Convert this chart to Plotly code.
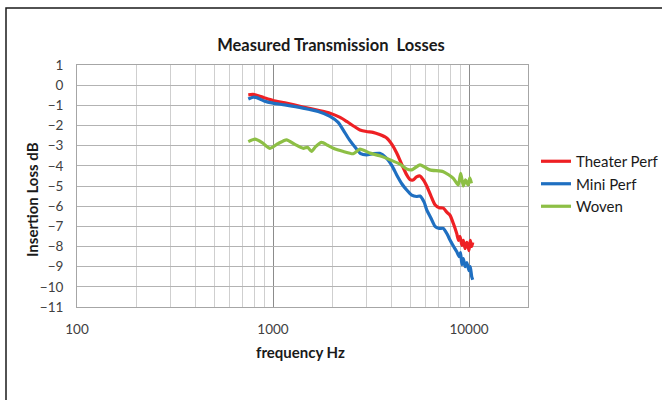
import plotly.graph_objects as go

# Insertion loss (dB) versus frequency (Hz) for three screen materials
theater_freq = [748, 790, 826, 900, 1000, 1150, 1422, 1700, 1954, 2200, 2376, 2600, 2778,
                3000, 3236, 3500, 3802, 4050, 4277, 4550, 4811, 5000, 5180, 5400, 5623,
                5850, 6085, 6400, 6709, 7050, 7396, 7700, 8000, 8350, 8653, 8850, 8995,
                9200, 9356, 9550, 9750, 10000, 10150, 10323, 10450]
theater_loss = [-0.48, -0.46, -0.5, -0.62, -0.76, -0.88, -1.08, -1.25, -1.39, -1.6, -1.8,
                -2.05, -2.22, -2.3, -2.34, -2.45, -2.62, -2.95, -3.36, -3.95, -4.45, -4.68,
                -4.7, -4.55, -4.5, -4.7, -5.0, -5.5, -5.93, -6.08, -6.1, -6.3, -6.45, -6.9,
                -7.35, -7.7, -7.5, -7.95, -7.7, -8.1, -7.8, -8.2, -7.7, -8.0, -7.8]

mini_freq = [748, 790, 826, 900, 1000, 1150, 1422, 1700, 1954, 2150, 2280, 2450, 2650,
             2800, 3000, 3236, 3500, 3802, 4050, 4277, 4550, 4811, 5100, 5400, 5623, 5900,
             6085, 6400, 6709, 7050, 7396, 7750, 8000, 8350, 8653, 8900, 9050, 9200, 9356,
             9550, 9750, 10000, 10150, 10323, 10450]
mini_loss = [-0.69, -0.6, -0.62, -0.78, -0.89, -0.98, -1.14, -1.31, -1.55, -1.85, -2.22,
             -2.7, -3.13, -3.4, -3.46, -3.4, -3.38, -3.63, -4.0, -4.45, -4.9, -5.2, -5.45,
             -5.52, -5.5, -5.8, -6.18, -6.6, -7.0, -7.1, -7.1, -7.4, -7.68, -8.0, -8.25,
             -8.5, -8.3, -8.9, -8.6, -9.0, -8.8, -9.2, -9.0, -9.5, -9.65]

woven_freq = [748, 810, 880, 966, 1060, 1172, 1300, 1428, 1500, 1573, 1650, 1770, 1900,
              2032, 2288, 2566, 2778, 3125, 3500, 3802, 4446, 4800, 5104, 5623, 6310,
              7396, 8318, 8810, 9070, 9356, 9600, 9891, 10100, 10290]
woven_loss = [-2.8, -2.68, -2.85, -3.13, -2.9, -2.71, -2.95, -3.13, -3.08, -3.29, -3.05,
              -2.84, -2.98, -3.13, -3.29, -3.4, -3.17, -3.37, -3.5, -3.63, -3.92, -4.15,
              -4.2, -3.95, -4.2, -4.29, -4.62, -4.95, -4.37, -5.0, -4.7, -4.95, -4.6, -4.87]

x_tick_vals = [100, 1000, 10000]
x_minor_vals = [200, 300, 400, 500, 600, 700, 800, 900,
                2000, 3000, 4000, 5000, 6000, 7000, 8000, 9000]
y_tick_vals = list(range(1, -12, -1))

FONT = "Lato"
TEXT = "#1a1a1a"
TICK = "#404040"

fig = go.Figure()
series = [
    ("Theater Perf", theater_freq, theater_loss, "#ee2024"),
    ("Mini Perf", mini_freq, mini_loss, "#1f6fc1"),
    ("Woven", woven_freq, woven_loss, "#8dbf45"),
]
for name, f, v, c in series:
    fig.add_trace(go.Scatter(
        x=f, y=v, name=name, mode="lines",
        line=dict(color=c, width=3.2, shape="spline", smoothing=0.6),
    ))

fig.update_layout(
    width=662, height=400,
    margin=dict(l=77, r=134, t=65, b=93, autoexpand=False),
    paper_bgcolor="white", plot_bgcolor="white",
    font=dict(family=FONT, size=13, color=TICK),
    title=dict(text="<b>Measured Transmission  Losses</b>",
               x=0.5, xref="container", xanchor="center",
               y=0.888, yref="container", yanchor="middle",
               font=dict(family=FONT, size=16.5, color=TEXT)),
    showlegend=True,
    legend=dict(x=536 / 662, xref="container", xanchor="left",
                y=1 - 184 / 400, yref="container", yanchor="middle",
                font=dict(family=FONT, size=15, color=TEXT),
                itemwidth=30, tracegroupgap=8, bgcolor="rgba(0,0,0,0)"),
)

fig.update_xaxes(
    type="log", range=[2, 4.301],
    tickmode="array", tickvals=x_tick_vals, ticktext=["100", "1000", "10000"],
    showgrid=True, gridcolor="#8c8c8c", gridwidth=1.3,
    ticks="outside", ticklen=10, tickcolor="rgba(0,0,0,0)",
    tickfont=dict(family=FONT, size=13.5, color=TICK),
    minor=dict(tickmode="array", tickvals=x_minor_vals, showgrid=True,
               gridcolor="#cfcfcf", gridwidth=1, ticks=""),
    showline=True, linecolor="#a6a6a6", linewidth=1, mirror=True,
    zeroline=False,
)
fig.update_yaxes(
    range=[-11, 1], tickmode="array", tickvals=y_tick_vals,
    showgrid=True, gridcolor="#b3b3b3", gridwidth=1,
    ticks="outside", ticklen=10, tickcolor="rgba(0,0,0,0)",
    tickfont=dict(family=FONT, size=13.5, color=TICK),
    showline=True, linecolor="#a6a6a6", linewidth=1, mirror=True,
    zeroline=False,
)

# Axis titles
fig.add_annotation(text="<b>frequency Hz</b>", xref="paper", yref="paper",
                   x=0.495, y=-0.185, xanchor="center", yanchor="middle",
                   showarrow=False, font=dict(family=FONT, size=15, color=TEXT))
fig.add_annotation(text="<b>Insertion Loss dB</b>", xref="paper", yref="paper",
                   x=-0.1, y=0.446, xanchor="center", yanchor="middle", textangle=-90,
                   showarrow=False, font=dict(family=FONT, size=15, color=TEXT))

# Chart frame
fig.add_shape(type="rect", xref="paper", yref="paper",
              x0=-71 / 451, x1=(680 - 77) / 451, y0=(307 - 420) / 242, y1=(307 - 8) / 242,
              line=dict(color="#1a1a1a", width=1.5), fillcolor="rgba(0,0,0,0)", layer="above")

fig.write_html("out.html")
